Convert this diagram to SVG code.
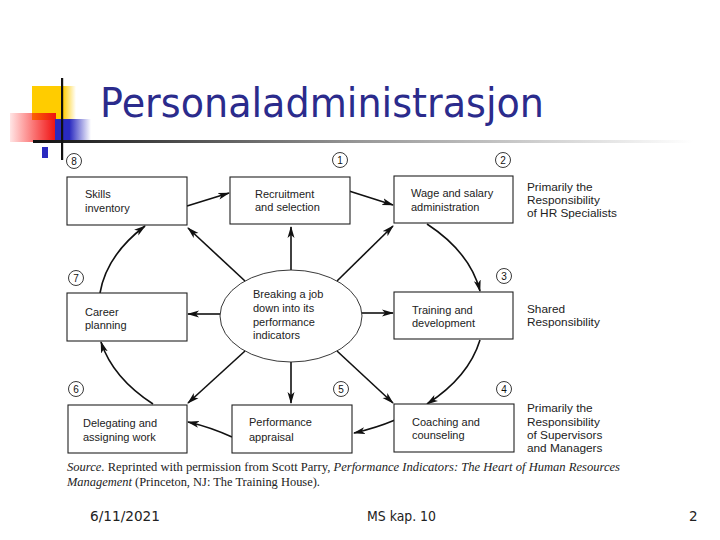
<svg xmlns="http://www.w3.org/2000/svg" width="720" height="540" viewBox="0 0 720 540">
<style>
.box{fill:#fff;stroke:#222;stroke-width:1.1}
.lbl{font-family:"Liberation Sans",Arial,sans-serif;font-size:11px;fill:#222}
.side{font-family:"Liberation Sans",Arial,sans-serif;font-size:11.8px;fill:#222}
.num{font-family:"Liberation Sans",Arial,sans-serif;font-size:10px;fill:#111;text-anchor:middle}
.nc{fill:#fff;stroke:#222;stroke-width:0.9}
.con{fill:none;stroke:#111;stroke-width:1.6;marker-end:url(#ah)}
.src{font-family:"Liberation Serif","Times New Roman",serif;font-size:11.5px;fill:#222}
.foot{font-family:"DejaVu Sans",Tahoma,sans-serif;font-size:13.5px;fill:#222}
</style>
<defs>
<marker id="ah" viewBox="0 0 12 8" refX="11" refY="4" markerWidth="12" markerHeight="8" markerUnits="userSpaceOnUse" orient="auto">
<path d="M0,0.5 L12,4 L0,7.5 L3,4 Z" fill="#111"/>
</marker>
<linearGradient id="gy" x1="0" x2="1" y1="0" y2="0"><stop offset="0" stop-color="#ffcc00"/><stop offset="0.7" stop-color="#ffcc00"/><stop offset="1" stop-color="#ffcc00" stop-opacity="0"/></linearGradient>
<linearGradient id="gr" x1="0" x2="1" y1="0" y2="0"><stop offset="0" stop-color="#ff0000" stop-opacity="0.1"/><stop offset="1" stop-color="#ee1111"/></linearGradient>
<linearGradient id="gb" x1="0" x2="1" y1="0" y2="0"><stop offset="0" stop-color="#2a2ac0"/><stop offset="0.4" stop-color="#2a2ac0"/><stop offset="1" stop-color="#2a2ac0" stop-opacity="0"/></linearGradient>
<linearGradient id="gl" x1="0" x2="1" y1="0" y2="0"><stop offset="0" stop-color="#111"/><stop offset="0.5" stop-color="#999"/><stop offset="1" stop-color="#fff"/></linearGradient>
</defs>
<rect width="720" height="540" fill="#fff"/>
<g id="title-deco">
<rect x="32" y="86" width="44" height="34" fill="url(#gy)"/>
<rect x="10" y="113" width="46" height="29" fill="url(#gr)"/>
<rect x="55" y="119" width="36" height="21" fill="url(#gb)"/>
<rect x="42" y="147" width="6" height="11" fill="#2a2ac0"/>
<rect x="33" y="140" width="660" height="3" fill="url(#gl)"/>
<rect x="61" y="78" width="2.2" height="82" fill="#111"/>
</g>
<text x="100" y="117" font-family="'DejaVu Sans',Tahoma,sans-serif" font-size="40" fill="#2b2b8c" textLength="444" lengthAdjust="spacingAndGlyphs">Personaladministrasjon</text>

<g id="connectors">
<path class="con" d="M187,206 L229,193"/>
<path class="con" d="M349,191 L393,205"/>
<path class="con" d="M427,224 A195,125 0 0 1 480,291"/>
<path class="con" d="M480,340 A195,125 0 0 1 427,404"/>
<path class="con" d="M395,420 Q376,428 354,433"/>
<path class="con" d="M232,437 Q210,427 188,422"/>
<path class="con" d="M153,404 A195,125 0 0 1 101,342"/>
<path class="con" d="M100,293 A195,125 0 0 1 145,226"/>
<path class="con" d="M291,270 L291,227"/>
<path class="con" d="M291,362 L291,403"/>
<path class="con" d="M220,314 L188,314"/>
<path class="con" d="M362,313 L393,313"/>
<path class="con" d="M245,281 L188,228"/>
<path class="con" d="M337,281 L393,226"/>
<path class="con" d="M245,351 L188,403"/>
<path class="con" d="M337,351 L393,403"/>
</g>

<g id="center">
<ellipse cx="291" cy="316" rx="71" ry="46" fill="#fff" stroke="#222" stroke-width="0.9"/>
<text class="lbl"><tspan x="253" y="298">Breaking a job</tspan><tspan x="253" y="312">down into its</tspan><tspan x="253" y="326">performance</tspan><tspan x="253" y="339">indicators</tspan></text>
</g>

<g id="n8">
<rect class="box" x="67" y="177" width="120" height="48"/>
<text class="lbl"><tspan x="85" y="198">Skills</tspan><tspan x="85" y="212">inventory</tspan></text>
<circle class="nc" cx="74" cy="161" r="7.5"/><text class="num" x="74" y="164.5">8</text>
</g>
<g id="n1">
<rect class="box" x="230" y="177" width="120" height="47"/>
<text class="lbl"><tspan x="255" y="198">Recruitment</tspan><tspan x="255" y="211">and selection</tspan></text>
<circle class="nc" cx="340" cy="160" r="7.5"/><text class="num" x="340" y="163.5">1</text>
</g>
<g id="n2">
<rect class="box" x="394" y="176" width="119" height="47"/>
<text class="lbl"><tspan x="411" y="197">Wage and salary</tspan><tspan x="411" y="211">administration</tspan></text>
<circle class="nc" cx="503" cy="160" r="7.5"/><text class="num" x="503" y="163.5">2</text>
</g>
<g id="n3">
<rect class="box" x="394" y="292" width="119" height="47"/>
<text class="lbl"><tspan x="412" y="314">Training and</tspan><tspan x="412" y="327">development</tspan></text>
<circle class="nc" cx="504" cy="276" r="7.5"/><text class="num" x="504" y="279.5">3</text>
</g>
<g id="n4">
<rect class="box" x="394" y="404" width="120" height="48"/>
<text class="lbl"><tspan x="412" y="426">Coaching and</tspan><tspan x="412" y="439">counseling</tspan></text>
<circle class="nc" cx="504" cy="389" r="7.5"/><text class="num" x="504" y="392.5">4</text>
</g>
<g id="n5">
<rect class="box" x="232" y="405" width="120" height="48"/>
<text class="lbl"><tspan x="249" y="426">Performance</tspan><tspan x="249" y="441">appraisal</tspan></text>
<circle class="nc" cx="341" cy="389" r="7.5"/><text class="num" x="341" y="392.5">5</text>
</g>
<g id="n6">
<rect class="box" x="68" y="405" width="119" height="48"/>
<text class="lbl"><tspan x="83" y="427">Delegating and</tspan><tspan x="83" y="441">assigning work</tspan></text>
<circle class="nc" cx="76" cy="389" r="7.5"/><text class="num" x="76" y="392.5">6</text>
</g>
<g id="n7">
<rect class="box" x="67" y="293" width="120" height="48"/>
<text class="lbl"><tspan x="85" y="316">Career</tspan><tspan x="85" y="329">planning</tspan></text>
<circle class="nc" cx="76" cy="278" r="7.5"/><text class="num" x="76" y="281.5">7</text>
</g>

<g id="side-labels">
<text class="side"><tspan x="527" y="191">Primarily the</tspan><tspan x="527" y="204">Responsibility</tspan><tspan x="527" y="217">of HR Specialists</tspan></text>
<text class="side"><tspan x="527" y="313">Shared</tspan><tspan x="527" y="326">Responsibility</tspan></text>
<text class="side"><tspan x="527" y="412">Primarily the</tspan><tspan x="527" y="426">Responsibility</tspan><tspan x="527" y="439">of Supervisors</tspan><tspan x="527" y="452">and Managers</tspan></text>
</g>

<g id="source">
<text class="src" x="67" y="471" textLength="553" lengthAdjust="spacingAndGlyphs"><tspan font-style="italic">Source.</tspan> Reprinted with permission from Scott Parry, <tspan font-style="italic">Performance Indicators: The Heart of Human Resources</tspan></text>
<text class="src" x="67" y="486" textLength="253" lengthAdjust="spacingAndGlyphs"><tspan font-style="italic">Management</tspan> (Princeton, NJ: The Training House).</text>
</g>

<g id="footer">
<text class="foot" x="90" y="521" textLength="70" lengthAdjust="spacingAndGlyphs">6/11/2021</text>
<text class="foot" x="367" y="521" textLength="69" lengthAdjust="spacingAndGlyphs">MS kap. 10</text>
<text class="foot" x="689" y="521">2</text>
</g>
</svg>
